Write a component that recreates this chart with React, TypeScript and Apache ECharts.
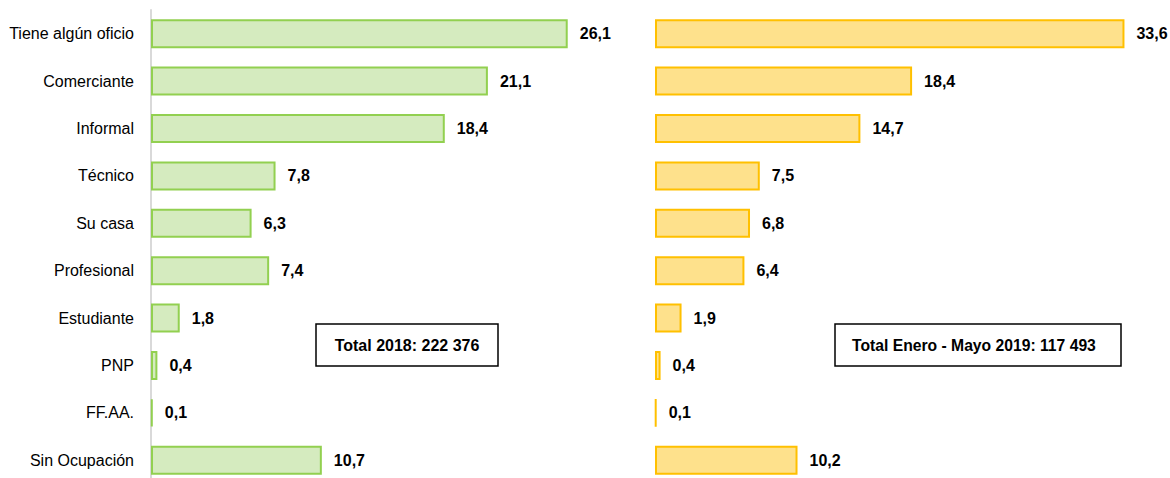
import React, { useEffect, useRef } from "react";
import * as echarts from "echarts";

const categories = [
  "Tiene algún oficio",
  "Comerciante",
  "Informal",
  "Técnico",
  "Su casa",
  "Profesional",
  "Estudiante",
  "PNP",
  "FF.AA.",
  "Sin Ocupación",
];
const values2018 = [26.1, 21.1, 18.4, 7.8, 6.3, 7.4, 1.8, 0.4, 0.1, 10.7];
const values2019 = [33.6, 18.4, 14.7, 7.5, 6.8, 6.4, 1.9, 0.4, 0.1, 10.2];
const total2018Label = "Total 2018: 222 376";
const total2019Label = "Total Enero - Mayo 2019: 117 493";

const FONT = "'Liberation Sans Narrow', 'Arial Narrow', 'Liberation Sans', sans-serif";
const fmt = (v: number) => v.toFixed(1).replace(".", ",");

export default function App() {
  const ref = useRef<HTMLDivElement>(null);
  useEffect(() => {
    if (!ref.current) return;
    const chart = echarts.init(ref.current, undefined, { renderer: "svg" });
    const barLabel = {
      show: true,
      position: "right" as const,
      distance: 12,
      fontFamily: FONT,
      fontSize: 16,
      fontWeight: "bold" as const,
      color: "#000",
      formatter: (p: any) => fmt(p.value),
    };
    chart.setOption({
      animation: false,
      backgroundColor: "#fff",
      grid: [
        { left: 151, top: 10, width: 479, height: 474 },
        { left: 655, top: 10, width: 503, height: 474 },
      ],
      xAxis: [
        { type: "value", gridIndex: 0, min: 0, max: 30, show: false },
        { type: "value", gridIndex: 1, min: 0, max: 36, show: false },
      ],
      yAxis: [
        {
          type: "category",
          gridIndex: 0,
          data: categories,
          inverse: true,
          axisLine: { show: true, lineStyle: { color: "#d9d9d9", width: 2 } },
          axisTick: { show: false },
          axisLabel: {
            margin: 17,
            fontFamily: FONT,
            fontSize: 16,
            color: "#000",
          },
        },
        {
          type: "category",
          gridIndex: 1,
          data: categories,
          inverse: true,
          axisLine: { show: false },
          axisTick: { show: false },
          axisLabel: { show: false },
        },
      ],
      series: [
        {
          type: "bar",
          xAxisIndex: 0,
          yAxisIndex: 0,
          data: values2018,
          barWidth: 29,
          itemStyle: { color: "#d5ebbf", borderColor: "#92d050", borderWidth: 2 },
          label: barLabel,
        },
        {
          type: "bar",
          xAxisIndex: 1,
          yAxisIndex: 1,
          data: values2019,
          barWidth: 29,
          itemStyle: { color: "#fee18c", borderColor: "#ffc000", borderWidth: 2 },
          label: barLabel,
        },
      ],
      graphic: [
        {
          type: "rect",
          shape: { x: 316, y: 324, width: 182, height: 42 },
          style: { fill: "#fff", stroke: "#000", lineWidth: 1.5 },
        },
        {
          type: "text",
          x: 407,
          y: 345,
          style: {
            text: total2018Label,
            fontFamily: FONT,
            fontSize: 16,
            fontWeight: "bold",
            fill: "#000",
            align: "center",
            verticalAlign: "middle",
          },
        },
        {
          type: "rect",
          shape: { x: 835, y: 324, width: 286, height: 42 },
          style: { fill: "#fff", stroke: "#000", lineWidth: 1.5 },
        },
        {
          type: "text",
          x: 852,
          y: 345,
          style: {
            text: total2019Label,
            fontFamily: FONT,
            fontSize: 15.7,
            fontWeight: "bold",
            fill: "#000",
            align: "left",
            verticalAlign: "middle",
          },
        },
      ],
    });
    return () => chart.dispose();
  }, []);
  return (
    <div
      ref={ref}
      style={{ position: "fixed", left: 0, top: 0, width: 1170, height: 490 }}
    />
  );
}
